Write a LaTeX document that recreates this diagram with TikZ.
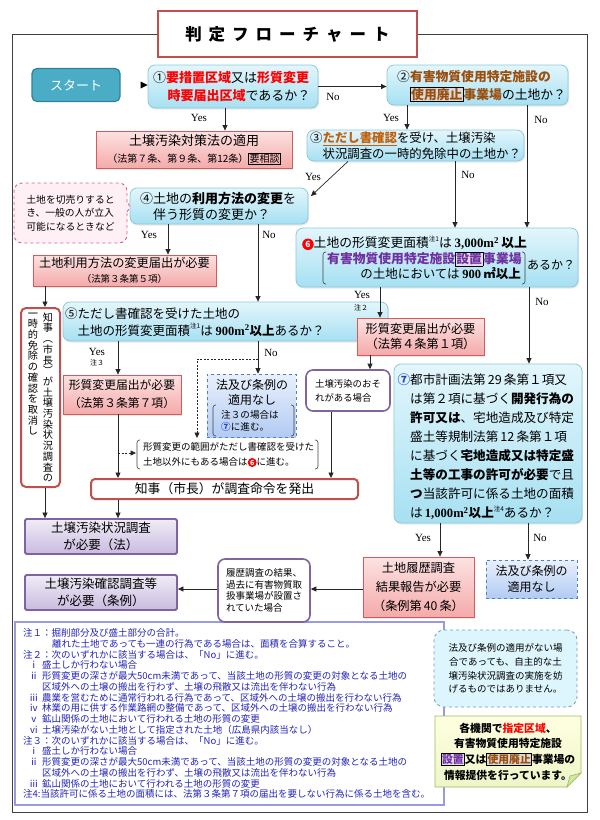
\documentclass[tikz,border=0pt]{standalone}
\usepackage{fontspec}
\setmainfont{Noto Sans CJK JP}
\newfontfamily\lat{Liberation Serif}
\usetikzlibrary{arrows.meta,shapes.callouts,shadows}
\definecolor{cyT}{HTML}{E3F6FC}
\definecolor{cyB}{HTML}{A6E0F2}
\definecolor{cyD}{HTML}{8DC9DB}
\definecolor{pkT}{HTML}{FDE2E2}
\definecolor{pkB}{HTML}{F4AAAA}
\definecolor{pkD}{HTML}{D65A5A}
\definecolor{puT}{HTML}{F0ECF6}
\definecolor{puB}{HTML}{C9BBDF}
\definecolor{puD}{HTML}{8064A2}
\definecolor{blT}{HTML}{E9F0FC}
\definecolor{blB}{HTML}{B2CBF3}
\definecolor{blD}{HTML}{4F81BD}
\definecolor{rdD}{HTML}{C0504D}
\definecolor{stF}{HTML}{4BACC6}
\definecolor{stD}{HTML}{2F8199}
\definecolor{brn}{HTML}{9A4E0E}
\definecolor{brnB}{HTML}{C0600E}
\definecolor{pur}{HTML}{7030A0}
\definecolor{lav}{HTML}{E4DDF0}
\definecolor{gbox}{HTML}{D9D9D9}
\definecolor{nblue}{HTML}{2424B8}
\definecolor{frm}{HTML}{404040}
\definecolor{pkF}{HTML}{FFF0F6}
\definecolor{pkDash}{HTML}{E05A8A}
\definecolor{cyL}{HTML}{DDF5FC}
\definecolor{cyDash}{HTML}{6C9BD2}
\definecolor{ylT}{HTML}{FFFFE0}
\definecolor{ylB}{HTML}{EEF5C8}
\definecolor{ylD}{HTML}{9BBB59}
\definecolor{ylF}{HTML}{D7E4A8}
\definecolor{ntD}{HTML}{9A9AE0}
\definecolor{cSeven}{HTML}{1F3FD0}
\newcommand\fsz[2]{\fontsize{#1}{#2}\selectfont}
\newcommand\chu[1]{\raisebox{0.5em}{\fsz{6.5}{6.5}注#1}}
\newcommand\msq{m\textsuperscript{2}}
\newcommand\rnum[1]{\makebox[13pt][l]{#1}}
\newcommand\ncirc[4]{\tikz[baseline={([yshift=-0.5pt]nc.base)}]\node[circle,fill=#1,inner sep=0pt,minimum size=#3,text=white,font=\bfseries\fsz{#4}{#4}] (nc) {#2};}
\setlength{\fboxsep}{0.6pt}
\setlength{\fboxrule}{0.6pt}
\tikzset{
  cbox/.style={draw=cyD, line width=0.8pt, rounded corners=7pt, top color=cyT, bottom color=cyB, inner sep=0pt, drop shadow={opacity=0.18,shadow xshift=1pt,shadow yshift=-1.5pt}},
  pbox/.style={draw=pkD, line width=0.8pt, top color=pkT, bottom color=pkB, inner sep=0pt, align=center, drop shadow={opacity=0.18,shadow xshift=1pt,shadow yshift=-1.5pt}},
  vbox/.style={draw=puD, line width=1.8pt, top color=puT, bottom color=puB, rounded corners=1.5pt, inner sep=0pt, align=center},
  dbox/.style={draw=blD, dashed, line width=0.6pt, top color=blT, bottom color=blB, inner sep=0pt, align=center},
  rbox/.style={draw=rdD, line width=2pt, fill=white, rounded corners=5pt, inner sep=0pt},
  obox/.style={draw=puD, line width=1.6pt, fill=white, rounded corners=7pt, inner sep=0pt},
  arr/.style={draw=black!85, line width=0.7pt, -{Triangle[length=5.5pt,width=5pt]}},
  darr/.style={arr, dash pattern=on 2pt off 1.5pt},
  lbl/.style={font=\lat\fsz{11}{11}, inner sep=0pt},
  sml/.style={font=\fsz{7}{7}, inner sep=0pt},
  tx/.style={inner sep=0pt, align=left},
  brk/.style={draw=black!75, line width=0.6pt, rounded corners=2.5pt}
}
\begin{document}
\begin{tikzpicture}[x=1pt,y=-1pt]
\useasboundingbox (0,0) rectangle (600,820);
% frame and title
\node[draw=rdD, line width=2pt, fill=white, minimum width=259, minimum height=46, inner sep=0pt, font=\bfseries\fsz{16.5}{17}] (title) at (287.5,34) {判\hspace{7pt}定\hspace{7pt}フ\hspace{7pt}ロ\hspace{7pt}ー\hspace{7pt}チ\hspace{7pt}ャ\hspace{7pt}ー\hspace{7pt}ト};
\draw[frm, line width=0.8pt] (title.west) -- (12,34) -- (12,812) -- (587,812) -- (587,34) -- (title.east);
% notes box (drawn early)
\draw[ntD, line width=1.5pt] (15,622) rectangle (444,805);
% start
\node[fill=stF, draw=stD, line width=1.2pt, rounded corners=5pt, minimum width=88, minimum height=33, text=white, font=\fsz{13}{13}, inner sep=0pt] (start) at (76,85) {スタート};
% box 1
\node[cbox, minimum width=170, minimum height=43] (b1) at (233,86.5) {};
\node[tx, anchor=west, font=\fsz{13}{18}] (b1t) at (153,87) {①\textcolor{red}{\bfseries 要措置区域}又は\textcolor{red}{\bfseries 形質変更}\\\hspace{1.1em}\textcolor{red}{\bfseries 時要届出区域}であるか？};
\draw[black, line width=0.6pt, double distance=1.6pt, shorten >=5pt] (start.east) -- (start.east -| b1.west);
\fill[black] (start.east -| b1.west) -- ++(-7,-3.5) -- ++(0,7) -- cycle;
% box 2
\node[cbox, minimum width=181, minimum height=40] (b2) at (477.5,85) {};
\node[tx, anchor=west, font=\fsz{12.8}{18}] (b2t) at (397,86) {②\textcolor{brn}{\bfseries 有害物質使用特定施設の}\\\hspace{1em}\fcolorbox{black}{gbox}{\textcolor{brn}{\bfseries 使用廃止}}\textcolor{brn}{\bfseries 事業場}の土地か？};
% law box
\node[pbox, minimum width=196, minimum height=37, font=\fsz{13}{17}] (law) at (194,149.5) {土壌汚染対策法の適用\\\fsz{10}{12}（法第７条、第９条、第12条）\fbox{要相談}};
% box 3
\node[cbox, minimum width=217, minimum height=31] (b3) at (415.5,145.5) {};
\node[tx, anchor=west, font=\fsz{12.4}{16}] (b3t) at (310,146) {③\textcolor{brnB}{\bfseries\underline{ただし書確認}}を受け、土壌汚染\\\hspace{1em}状況調査の一時的免除中の土地か？};
% box 4
\node[cbox, minimum width=178, minimum height=36] (b4) at (219,206) {};
\node[tx, anchor=west, font=\fsz{13}{16}] (b4t) at (140,206) {④土地の\textbf{利用方法の変更}を\\\hspace{1em}伴う形質の変更か？};
% pink callout
\node[rectangle callout, callout absolute pointer={(133,206)}, callout pointer width=10pt, draw=pkDash, dashed, line width=0.9pt, fill=pkF, rounded corners=8pt, minimum width=113, minimum height=60, inner sep=0pt, align=left, font=\fsz{9.8}{13.5}] (cut) at (70.5,213) {土地を切売りすると\\き、一般の人が立入\\可能になるときなど};
% land use change box
\node[pbox, minimum width=183, minimum height=31, font=\fsz{12.2}{15}] (use) at (124.5,270.5) {土地利用方法の変更届出が必要\\\fsz{9.5}{11}（法第３条第５項）};
% vertical red box
\node[rbox, minimum width=39, minimum height=179] (rev) at (40.5,397.5) {};
\node[tx, align=center, anchor=north, font=\fsz{10.2}{10.7}] (revR) at (48,312.5) {知\\事\\︵\\市\\長\\︶\\が\\土\\壌\\汚\\染\\状\\況\\調\\査\\の};
\node[tx, align=center, anchor=north, font=\fsz{10.2}{10.7}] (revL) at (33,312.5) {一\\時\\的\\免\\除\\の\\確\\認\\を\\取\\消\\し};
% box 5
\node[cbox, minimum width=325, minimum height=39] (b5) at (225.5,321.5) {};
\node[tx, anchor=west, font=\fsz{12.5}{17}] (b5t) at (65,322) {⑤ただし書確認を受けた土地の\\\hspace{1em}土地の形質変更面積\chu{1}は \textbf{\lat 900\msq}\textbf{以上}あるか？};
% box 6
\node[cbox, minimum width=282, minimum height=59] (b6) at (437,257.5) {};
\node[tx, anchor=west, font=\fsz{12.8}{16}] (b6a) at (302,243) {\ncirc{red}{6}{11.5pt}{8.5}土地の形質変更面積\chu{1}は \textbf{\lat 3,000\msq}\,\textbf{以上}};
\node[tx, anchor=west, font=\fsz{12.8}{14}] (b6b) at (327,259) {\textcolor{pur}{\bfseries 有害物質使用特定施設\fcolorbox{black}{lav}{設置}事業場}};
\node[tx, anchor=east, font=\fsz{12.5}{14}] (b6c) at (521,274) {の土地においては \textbf{\lat 900}\,\textbf{㎡以上}};
\node[tx, anchor=west, font=\fsz{12}{14}] (b6d) at (527,265) {あるか？};
\draw[brk] (326,252) -- (323,252) -- (323,284) -- (326,284);
\draw[brk] (522,252) -- (525,252) -- (525,284) -- (522,284);
% k41
\node[pbox, minimum width=127, minimum height=37, font=\fsz{12.2}{15}] (k41) at (420.5,336.5) {形質変更届出が必要\\（法第４条第１項）};
% osore
\node[obox, minimum width=84, minimum height=41, align=left, font=\fsz{9.4}{14}] (osore) at (348,390.5) {土壌汚染のおそ\\れがある場合};
% box 7
\node[cbox, minimum width=188, minimum height=159] (b7) at (488,443.5) {};
\node[tx, anchor=west, font=\fsz{12.6}{19}] (b7t) at (410,446.5) {\llap{\textcolor{cSeven}{\bfseries ⑦}}都市計画法第\,29\,条第１項又\\は第２項に基づく\textbf{開発行為の}\\\textbf{許可又は}、宅地造成及び特定\\盛土等規制法第\,12\,条第１項\\に基づく\textbf{宅地造成又は特定盛}\\\textbf{土等の工事の許可が必要}で且\\\textbf{つ}当該許可に係る土地の面積\\は\,\textbf{\lat 1,000\msq}\textbf{以上}\chu{4}あるか？};
% k37
\node[pbox, minimum width=118, minimum height=39, font=\fsz{11.8}{18}] (k37) at (122,394.5) {形質変更届出が必要\\（法第３条第７項）};
% na1
\node[dbox, minimum width=89, minimum height=63] (na1) at (251.5,405.5) {};
\node[tx, align=center, font=\fsz{12}{15}] (na1t) at (252,392.5) {法及び条例の\\適用なし};
\node[tx, anchor=west, font=\fsz{9.6}{12}] (na1n) at (221,421) {注３の場合は\\\textcolor{cSeven}{\bfseries ⑦}に進む。};
\draw[brk] (216,405) -- (213,405) -- (213,436) -- (216,436);
\draw[brk] (291,405) -- (294,405) -- (294,436) -- (291,436);
% note 6
\node[tx, anchor=west, font=\fsz{9.5}{15.5}] (note6) at (143,454.5) {形質変更の範囲がただし書確認を受けた\\土地以外にもある場合は\ncirc{red}{6}{9pt}{7}に進む。};
\draw[brk] (140,440) -- (137,440) -- (137,469) -- (140,469);
\draw[brk] (315,440) -- (318,440) -- (318,469) -- (315,469);
% chiji
\node[rbox, rounded corners=4pt, minimum width=267, minimum height=20, font=\fsz{12.8}{13}] (chiji) at (224.5,489) {知事（市長）が調査命令を発出};
% purple boxes
\node[vbox, minimum width=152, minimum height=35, font=\fsz{12.5}{17}] (jokyo) at (101,536.5) {土壌汚染状況調査\\が必要（法）};
\node[vbox, minimum width=152, minimum height=35, font=\fsz{12.5}{17}] (kak) at (101,592.5) {土壌汚染確認調査等\\が必要（条例）};
% rireki callout
\node[obox, minimum width=92, minimum height=63, align=left, font=\fsz{9.5}{11.7}] (rireki) at (264,590.5) {履歴調査の結果、\\過去に有害物質取\\扱事業場が設置さ\\れていた場合};
% hist
\node[pbox, minimum width=111, minimum height=60, font=\fsz{12.2}{19}] (hist) at (418.5,587) {土地履歴調査\\結果報告が必要\\（条例第\,40\,条）};
% na2
\node[dbox, minimum width=91, minimum height=38, font=\fsz{12}{16}] (na2) at (531.5,579) {法及び条例の\\適用なし};
% coordinates for connectors
\coordinate (xB) at (225,0);
\coordinate (xC) at (407,0);
\coordinate (xD) at (527,0);
\coordinate (xE) at (348,0);
\coordinate (xF) at (455,0);
\coordinate (xG) at (168,0);
\coordinate (xH) at (258,0);
\coordinate (xI) at (45,0);
\coordinate (xJ) at (118,0);
\coordinate (xK) at (380,0);
\coordinate (xL) at (529,0);
\coordinate (xM) at (370,0);
\coordinate (xN) at (331,0);
\coordinate (xO) at (440,0);
\coordinate (xP) at (528,0);
\coordinate (yR) at (0,589);
\coordinate (b4r) at (311,196);
\coordinate (dj) at (258,359);
\coordinate (dk) at (197,438);
\coordinate (dm) at (118,453);
\coordinate (dn) at (136,453);
% connectors
\draw[arr] (b1.east) -- (b1.east -| b2.west);
\draw[arr] (b1.south -| xB) -- (law.north -| xB);
\draw[arr] (b2.south -| xC) -- (b3.north -| xC);
\draw[arr] (b2.south -| xD) -- (b6.north -| xD);
\draw[arr] (b3.south -| xE) -- (b4r);
\draw[arr] (b3.south -| xF) -- (b6.north -| xF);
\draw[arr] (b4.south -| xG) -- (use.north -| xG);
\draw[arr] (b4.south -| xH) -- (b5.north -| xH);
\draw[arr] (use.south -| xI) -- (rev.north -| xI);
\draw[arr] (rev.south -| xI) -- (jokyo.north -| xI);
\draw[arr] (b5.south -| xJ) -- (k37.north -| xJ);
\draw[arr] (b5.south -| xH) -- (na1.north -| xH);
\draw[darr] (dj) -| (dk);
\draw[darr] (dm) -- (dn);
\draw[arr] (k37.south -| xJ) -- (chiji.north -| xJ);
\draw[arr] (chiji.south -| xJ) -- (jokyo.north -| xJ);
\draw[arr] (b6.south -| xK) -- (k41.north -| xK);
\draw[arr] (b6.south -| xL) -- (b7.north -| xL);
\draw[arr] (k41.south -| xM) -- (osore.north -| xM);
\draw[arr] (osore.south -| xN) -- (chiji.north -| xN);
\draw[arr] (b7.south -| xO) -- (hist.north -| xO);
\draw[arr] (b7.south -| xP) -- (na2.north -| xP);
\draw[arr] (hist.west |- yR) -- (rireki.east |- yR);
\draw[arr] (rireki.west |- yR) -- (kak.east |- yR);
% labels
\node[lbl] (y1) at (199,118) {Yes};
\node[lbl] (n1) at (333,97) {No};
\node[lbl] (y2) at (391,118) {Yes};
\node[lbl] (n2) at (541,120) {No};
\node[lbl] (y3) at (313,177) {Yes};
\node[lbl] (n3) at (468,175) {No};
\node[lbl] (y4) at (149,235) {Yes};
\node[lbl] (n4) at (269,235) {No};
\node[lbl] (y5) at (97,352) {Yes};
\node[sml] (c5) at (97,363) {注３};
\node[lbl] (n5) at (271,353) {No};
\node[lbl] (y6) at (362,295) {Yes};
\node[sml] (c6) at (361,308) {注２};
\node[lbl] (n6) at (542,302) {No};
\node[lbl] (y7) at (423,538) {Yes};
\node[lbl] (n7) at (540,538) {No};
% notes
\foreach \xx/\ntxt [count=\i] in {
23/注１：掘削部分及び盛土部分の合計。,
52/離れた土地であっても一連の行為である場合は、面積を合算すること。,
23/注２：次のいずれかに該当する場合は、「No」に進む。,
29/\rnum{ⅰ}盛土しか行わない場合,
29/\rnum{ⅱ}形質変更の深さが最大50cm未満であって、当該土地の形質の変更の対象となる土地の,
42/区域外への土壌の搬出を行わず、土壌の飛散又は流出を伴わない行為,
29/\rnum{ⅲ}農業を営むために通常行われる行為であって、区域外への土壌の搬出を行わない行為,
29/\rnum{ⅳ}林業の用に供する作業路網の整備であって、区域外への土壌の搬出を行わない行為,
29/\rnum{ⅴ}鉱山関係の土地において行われる土地の形質の変更,
29/\rnum{ⅵ}土壌汚染がない土地として指定された土地（広島県内該当なし）,
23/注３：次のいずれかに該当する場合は、「No」に進む。,
29/\rnum{ⅰ}盛土しか行わない場合,
29/\rnum{ⅱ}形質変更の深さが最大50cm未満であって、当該土地の形質の変更の対象となる土地の,
42/区域外への土壌の搬出を行わず、土壌の飛散又は流出を伴わない行為,
29/\rnum{ⅲ}鉱山関係の土地において行われる土地の形質の変更,
23/注4:当該許可に係る土地の面積には、法第３条第７項の届出を要しない行為に係る土地を含む。}
{\node[anchor=west, inner sep=0pt, font=\fsz{9.5}{10}, text=nblue] (note\i) at (\xx,{633+(\i-1)*10.75}) {\ntxt};}
% cyan callout
\node[draw=cyDash, dashed, line width=0.8pt, fill=cyL, rounded corners=10pt, minimum width=143, minimum height=77, inner sep=0pt, align=center, font=\fsz{9.5}{13.7}] (free) at (505.5,668.5) {法及び条例の適用がない場\\合であっても、自主的な土\\壌汚染状況調査の実施を妨\\げるものではありません。};
% yellow note
\draw[draw=ylD, line width=0.8pt, top color=ylT, bottom color=ylB] (435,716) -- (581,716) -- (581,773) -- (567,787) -- (435,787) -- cycle;
\draw[draw=ylD, line width=0.6pt, fill=ylF] (567,787) -- (570,776) -- (581,773) -- cycle;
\node[align=center, inner sep=0pt, font=\bfseries\fsz{10.8}{15.7}] (info) at (508,751.5) {各機関で\textcolor{red}{指定区域}、\\有害物質使用特定施設\\\fcolorbox{black}{lav}{\textcolor{pur}{設置}}又は\fcolorbox{black}{gbox}{\textcolor{brn}{使用廃止}}事業場の\\情報提供を行っています。};
\end{tikzpicture}
\end{document}
